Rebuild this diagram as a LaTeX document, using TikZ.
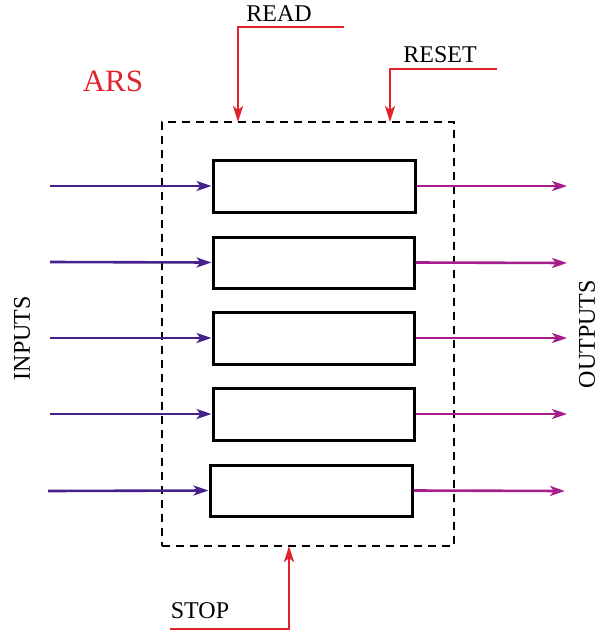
\documentclass[tikz,border=0pt]{standalone}
\usepackage{fontspec}
\setmainfont{Liberation Serif}
\usetikzlibrary{arrows.meta}
\definecolor{inp}{RGB}{72,32,140}
\definecolor{outp}{RGB}{165,30,140}
\definecolor{sig}{RGB}{225,35,45}
\begin{document}
\begin{tikzpicture}[x=1pt,y=-1pt,
  reg/.style={draw=black,line width=3pt,inner sep=0pt,minimum width=201pt,minimum height=51pt},
  inarrow/.style={draw=inp,line width=2.6pt,-{Stealth[length=15pt,width=10pt,inset=4pt]}},
  outarrow/.style={draw=outp,line width=2.6pt,-{Stealth[length=15pt,width=10pt,inset=4pt]}},
  sigarrow/.style={draw=sig,line width=2.6pt,-{Stealth[length=16pt,width=10pt,inset=4pt]}},
  lbl/.style={inner sep=0pt,font=\fontsize{24}{28}\selectfont}]
\useasboundingbox (0,0) rectangle (603,632);
\node[draw=black,line width=2.6pt,dash pattern=on 8pt off 6pt,inner sep=0pt,minimum width=292pt,minimum height=424pt] (frame) at (308,334) {};
\node[reg,minimum width=202pt,minimum height=52pt] (b1) at (314,186) {};
\node[reg] (b2) at (313.5,262.5) {};
\node[reg,minimum height=52pt] (b3) at (313.5,338) {};
\node[reg,minimum height=52pt] (b4) at (313.5,414) {};
\node[reg,minimum width=202pt] (b5) at (311,490.5) {};
\coordinate (i1) at (50,186);
\coordinate (i2) at (50,262);
\coordinate (i3) at (50,338);
\coordinate (i4) at (50,414);
\coordinate (i5) at (48,491);
\coordinate (o1) at (567,186);
\coordinate (o2) at (567,263);
\coordinate (o3) at (567,338);
\coordinate (o4) at (567,414);
\coordinate (o5) at (565,491);
\foreach \k in {1,...,5}{
  \draw[inarrow] (i\k) -- (b\k.west);
  \draw[outarrow] (b\k.east) -- (o\k);
}
\coordinate (rd0) at (344,27);
\coordinate (rd1) at (238,122);
\coordinate (rs0) at (497,69);
\coordinate (rs1) at (390,122);
\coordinate (st0) at (170,629);
\coordinate (st1) at (289,546);
\draw[sigarrow] (rd0) -| (rd1);
\draw[sigarrow] (rs0) -| (rs1);
\draw[sigarrow] (st0) -| (st1);
\node[lbl] (read) at (279,14) {READ};
\node[lbl] (reset) at (440,55) {RESET};
\node[lbl] (stop) at (200,611) {STOP};
\node[inner sep=0pt,font=\fontsize{31}{36}\selectfont,text=sig] (ars) at (113,81) {ARS};
\node[lbl,rotate=90] (inputs) at (22,338) {INPUTS};
\node[lbl,rotate=90] (outputs) at (587,334) {OUTPUTS};
\end{tikzpicture}
\end{document}
